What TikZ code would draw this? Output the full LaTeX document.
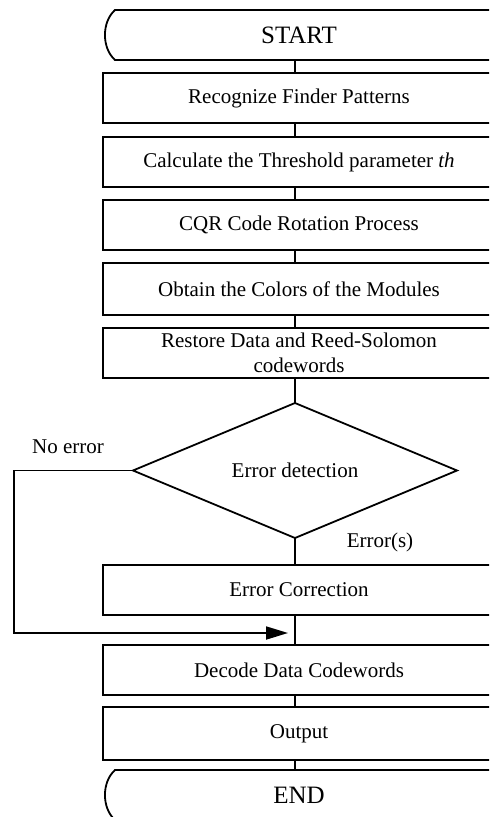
\documentclass[tikz,border=0pt]{standalone}
\usepackage{fontspec}
\setmainfont{Liberation Serif}
\usetikzlibrary{positioning,calc,shapes.geometric,arrows.meta}

\begin{document}
\begin{tikzpicture}[x=0.5pt,y=0.5pt,line width=0.9pt]
	\tikzset{
		stepbox/.style={
				draw,
				rectangle,
				minimum width=196pt,
				minimum height=25pt,
				inner sep=0pt,
				outer sep=0pt,
				align=center,
				font=\fontsize{10.5}{12.5}\selectfont,
			},
		terminal/.style={
				stepbox,
				draw=none,
				font=\fontsize{12.5}{15}\selectfont,
			},
		decision/.style={
				draw,
				diamond,
				aspect=2.4,
				minimum width=162pt,
				minimum height=67.5pt,
				inner sep=0pt,
				outer sep=0pt,
				font=\fontsize{10.5}{12.5}\selectfont,
			},
		branch/.style={font=\fontsize{10.5}{12.5}\selectfont},
	}
	\useasboundingbox (0,0) rectangle (489,-817);
	\fill[white] (0,0) rectangle (489,-817);
	\clip (0,0) rectangle (489,-817);
	%
	\node[terminal, anchor=north west] at (103,-10) (start) {START};
	\node[stepbox, below=6.5pt of start] (find) {Recognize Finder Patterns};
	\node[stepbox, below=7pt of find] (thres) {Calculate the Threshold parameter \textit{th}};
	\node[stepbox, below=6.5pt of thres] (rot) {CQR Code Rotation Process};
	\node[stepbox, below=6.5pt of rot, minimum height=26pt] (color) {Obtain the Colors of the Modules};
	\node[stepbox, below=6.5pt of color] (restore) {Restore Data and Reed-Solomon\\codewords};
	\node[decision, below=12.5pt of restore, xshift=-2pt] (detect) {Error detection};
	\node[stepbox, below=13.5pt of detect, xshift=2pt] (correct) {Error Correction};
	\node[stepbox, below=15pt of correct] (decode) {Decode Data Codewords};
	\node[stepbox, below=6pt of decode, minimum height=26.5pt] (out) {Output};
	\node[terminal, below=5pt of out] (end) {END};
	%
	\node[branch] at ($(detect.west)+(-32.5pt,12pt)$) (noerr) {No error};
	\node[branch] at ($(detect.south)+(42.5pt,-2pt)$) (errs) {Error(s)};
	%
	% rounded ends of the terminals
	\draw ([xshift=6pt]start.north west)
		.. controls ([xshift=-0.7pt,yshift=-6pt]start.north west) and ([xshift=-0.7pt,yshift=6pt]start.south west) .. ([xshift=6pt]start.south west)
		-- ([xshift=10pt]start.south east)
		.. controls ([xshift=16.7pt,yshift=6pt]start.south east) and ([xshift=16.7pt,yshift=-6pt]start.north east) .. ([xshift=10pt]start.north east)
		-- cycle;
	\draw ([xshift=6pt]end.north west)
		.. controls ([xshift=-0.7pt,yshift=-6pt]end.north west) and ([xshift=-0.7pt,yshift=6pt]end.south west) .. ([xshift=6pt]end.south west)
		-- ([xshift=10pt]end.south east)
		.. controls ([xshift=16.7pt,yshift=6pt]end.south east) and ([xshift=16.7pt,yshift=-6pt]end.north east) .. ([xshift=10pt]end.north east)
		-- cycle;
	%
	\draw (start.south -| detect.north) -- (find.north -| detect.north);
	\draw (find.south -| detect.north) -- (thres.north -| detect.north);
	\draw (thres.south -| detect.north) -- (rot.north -| detect.north);
	\draw (rot.south -| detect.north) -- (color.north -| detect.north);
	\draw (color.south -| detect.north) -- (restore.north -| detect.north);
	\draw (restore.south -| detect.north) -- (detect.north);
	\draw (detect.south) -- (correct.north -| detect.south);
	\draw (correct.south -| detect.south) -- (decode.north -| detect.south);
	\draw (decode.south -| detect.south) -- (out.north -| detect.south);
	\draw (out.south -| detect.south) -- (end.north -| detect.south);
	%
	% no error: skip the correction step
	\coordinate (merge) at ($(correct.south -| detect.south)!0.6!(decode.north -| detect.south)$);
	\coordinate[left=59.5pt of detect.west] (bypass);
	\draw[-{Triangle[length=11pt,width=6.5pt]}, shorten >=3.5pt] (detect.west) -- (bypass) |- (merge);
\end{tikzpicture}
\end{document}
